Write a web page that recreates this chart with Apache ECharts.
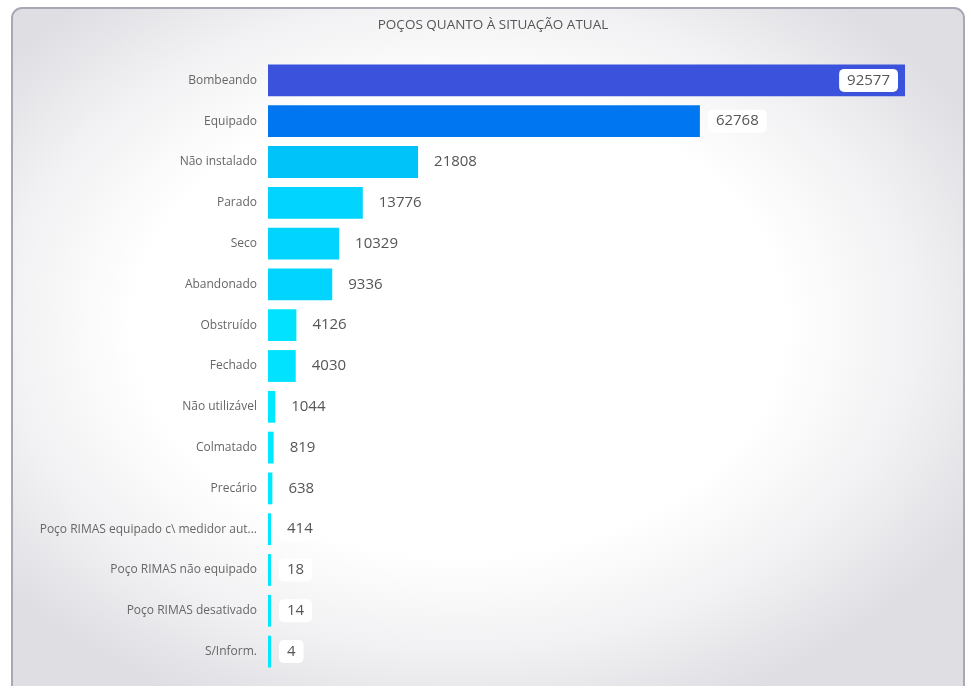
<!DOCTYPE html>
<html>
<head>
<meta charset="utf-8">
<script src="https://cdn.jsdelivr.net/npm/echarts@6/dist/echarts.min.js"></script>
<style>
html,body{margin:0;padding:0;width:967px;height:686px;overflow:hidden;background:#ffffff;}
#card{position:absolute;left:11px;top:7px;width:950px;height:700px;border:2px solid #a9a9b6;border-radius:11px;
background:radial-gradient(ellipse 62% 60% at 47% 45%, #ffffff 55%, #f1f1f3 78%, #dedee3 100%);}
#chart{position:absolute;left:0;top:0;width:967px;height:686px;}
</style>
</head>
<body>
<div id="card"></div>
<div id="chart"></div>
<script>
const titleText = 'POÇOS QUANTO À SITUAÇÃO ATUAL';
const categories = ['Bombeando','Equipado','Não instalado','Parado','Seco','Abandonado','Obstruído','Fechado','Não utilizável','Colmatado','Precário','Poço RIMAS equipado c\\ medidor automático','Poço RIMAS não equipado','Poço RIMAS desativado','S/Inform.'];
const values = [92577,62768,21808,13776,10329,9336,4126,4030,1044,819,638,414,18,14,4];

function colorFor(v){
  if (v >= 80000) return '#3b52dc';
  if (v >= 40000) return '#0077f0';
  if (v >= 18000) return '#00c3fa';
  if (v >= 8000) return '#00d4ff';
  if (v >= 2000) return '#00e2ff';
  return '#00e8ff';
}

const chart = echarts.init(document.getElementById('chart'), null, {renderer:'canvas'});
chart.setOption({
  backgroundColor:'transparent',
  animation:false,
  title:{text:titleText, left:488, top:13, textAlign:'center',
    textStyle:{fontFamily:'Open Sans', fontWeight:'normal', fontSize:13.5, color:'#555'}},
  grid:{left:268, right:62, top:60, bottom:14, containLabel:false},
  xAxis:{type:'value', min:0, max:92577, show:false},
  yAxis:{type:'category', inverse:true, data:categories,
    axisLine:{show:false}, axisTick:{show:false},
    axisLabel:{margin:11, fontFamily:'Open Sans', fontSize:12, color:'#666',
      width:224, overflow:'truncate', ellipsis:'...'}},
  series:[{
    type:'bar',
    data: values.map(function(v,i){
      const item = {value:v, itemStyle:{color:colorFor(v)}};
      if (i===0) item.label = {position:'insideRight', distance:7};
      return item;
    }),
    barCategoryGap:'22%',
    barMinHeight:3,
    label:{show:true, position:'right', distance:8,
      backgroundColor:'#ffffff', borderRadius:5, padding:[4,8,4,8],
      fontFamily:'Open Sans', fontSize:15, color:'#555'}
  }]
});
</script>
</body>
</html>
